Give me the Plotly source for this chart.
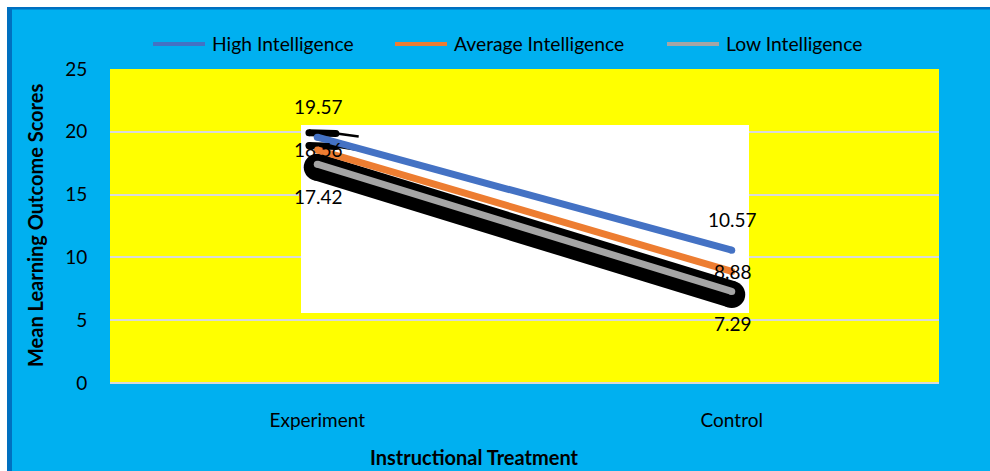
import plotly.graph_objects as go

# ---- data -------------------------------------------------------------
treatments = ["Experiment", "Control"]
series_names = ["High Intelligence", "Average Intelligence", "Low Intelligence"]
high = [19.57, 10.57]
average = [18.56, 8.88]
low = [17.42, 7.29]
y_ticks = [0, 5, 10, 15, 20, 25]

series_values = [high, average, low]
colors = ["#4472C4", "#ED7D31", "#A5A5A5"]

# ---- geometry ---------------------------------------------------------
W, H = 990, 471
M_L, M_R, M_T, M_B = 110, 51, 69, 88
PW = W - M_L - M_R
PH = H - M_T - M_B
Y_MAX = 25
X_MIN, X_MAX = -0.5, len(treatments) - 0.5
UNIT_PX = PH / Y_MAX

FONT = "Lato, Calibri, sans-serif"
CYAN = "#00B0F0"
FRAME = "#0070C0"
GRID = "#D9D9D9"


def px_x(p):
    return (p - M_L) / PW


def px_y(p):
    return (H - M_B - p) / PH


def px_to_xdata(p):
    return X_MIN + px_x(p) * (X_MAX - X_MIN)


def px_to_ydata(p):
    return px_y(p) * Y_MAX


xpos = list(range(len(treatments)))

fig = go.Figure()

# white inset panel behind the lines (covers the gridlines)
px0, px1 = px_to_xdata(301), px_to_xdata(749)
py0, py1 = px_to_ydata(313), px_to_ydata(125)
fig.add_trace(go.Scatter(
    x=[px0, px1, px1, px0, px0], y=[py0, py0, py1, py1, py0],
    mode="lines", fill="toself", fillcolor="white", line=dict(width=0),
    hoverinfo="skip", showlegend=False))

# heavy black shadow under the low-intelligence line
shadow_off = 3 / UNIT_PX
fig.add_trace(go.Scatter(
    x=xpos, y=[v - shadow_off for v in low], mode="lines+markers",
    line=dict(color="black", width=27), marker=dict(color="black", size=27),
    hoverinfo="skip", showlegend=False))

# small hooked shadows at the start of the high / average lines
for vals in (high, average):
    slope = vals[1] - vals[0]
    fig.add_trace(go.Scatter(
        x=[-0.02, 0.045], y=[vals[0] + 0.35, vals[0] + slope * 0.045 + 0.7],
        mode="lines+markers", line=dict(color="black", width=7),
        marker=dict(color="black", size=7), hoverinfo="skip", showlegend=False))
    fig.add_trace(go.Scatter(
        x=[0.02, 0.1], y=[vals[0] + slope * 0.02 + 0.6, vals[0] + slope * 0.1 + 0.95],
        mode="lines", line=dict(color="black", width=2.5),
        hoverinfo="skip", showlegend=False))

# the three series
for name, vals, col in zip(series_names, series_values, colors):
    fig.add_trace(go.Scatter(
        x=xpos, y=vals, mode="lines+markers", name=name,
        line=dict(color=col, width=7), marker=dict(color=col, size=7),
        showlegend=False))

annotations = []

# value labels
label_shift = [31, 0, -32]
for vals, dy in zip(series_values, label_shift):
    for xi, v in zip(xpos, vals):
        annotations.append(dict(
            x=xi, y=v, xref="x", yref="y", text=f"{v:.2f}", showarrow=False,
            xanchor="center", yanchor="middle",
            yshift=dy, xshift=1, font=dict(family=FONT, size=19, color="black")))

# legend drawn along the top
legend_starts = [153, 395, 667]
legend_y = px_y(44)
shapes = []
for name, col, start in zip(series_names, colors, legend_starts):
    shapes.append(dict(type="line", xref="paper", yref="paper",
                       x0=px_x(start), x1=px_x(start + 52), y0=legend_y, y1=legend_y,
                       line=dict(color=col, width=4)))
    annotations.append(dict(x=px_x(start + 57), y=legend_y, xref="paper", yref="paper",
                            text=name, showarrow=False, xanchor="left", yanchor="middle",
                            font=dict(family=FONT, size=19.3, color="black")))

# axis titles
annotations.append(dict(x=px_x(474), y=px_y(457), xref="paper", yref="paper",
                        text="<b>Instructional Treatment</b>", showarrow=False,
                        xanchor="center", yanchor="middle",
                        font=dict(family=FONT, size=20, color="black")))
annotations.append(dict(x=px_x(35), y=px_y(226), xref="paper", yref="paper",
                        text="<b>Mean Learning Outcome Scores</b>", showarrow=False,
                        textangle=-90, xanchor="center", yanchor="middle",
                        font=dict(family=FONT, size=20, color="black")))

# outer frame: white margin strip and dark blue edge
shapes.append(dict(type="rect", xref="paper", yref="paper", layer="below",
                   x0=px_x(0), x1=px_x(W), y0=px_y(0), y1=px_y(7),
                   fillcolor="white", line=dict(width=0)))
shapes.append(dict(type="rect", xref="paper", yref="paper", layer="below",
                   x0=px_x(0), x1=px_x(7), y0=px_y(H), y1=px_y(0),
                   fillcolor="white", line=dict(width=0)))
shapes.append(dict(type="rect", xref="paper", yref="paper", layer="below",
                   x0=px_x(7), x1=px_x(W), y0=px_y(9.5), y1=px_y(7),
                   fillcolor=FRAME, line=dict(width=0)))
shapes.append(dict(type="rect", xref="paper", yref="paper", layer="below",
                   x0=px_x(7), x1=px_x(12), y0=px_y(H), y1=px_y(7),
                   fillcolor=FRAME, line=dict(width=0)))

fig.update_layout(
    width=W, height=H,
    margin=dict(l=M_L, r=M_R, t=M_T, b=M_B, pad=0),
    paper_bgcolor=CYAN, plot_bgcolor="#FFFF00",
    showlegend=False,
    font=dict(family=FONT, size=19, color="black"),
    shapes=shapes, annotations=annotations,
    xaxis=dict(range=[X_MIN, X_MAX], tickvals=xpos, ticktext=treatments,
               showgrid=False, zeroline=False, showline=False,
               ticks="outside", ticklen=20, tickcolor="rgba(0,0,0,0)",
               tickfont=dict(family=FONT, size=19, color="black")),
    yaxis=dict(range=[0, Y_MAX], tickvals=y_ticks, showgrid=True,
               gridcolor=GRID, gridwidth=2, zeroline=True,
               zerolinecolor=GRID, zerolinewidth=2, showline=False,
               ticks="outside", ticklen=18, tickcolor="rgba(0,0,0,0)",
               tickfont=dict(family=FONT, size=19, color="black")),
)

fig.write_html("out.html")
